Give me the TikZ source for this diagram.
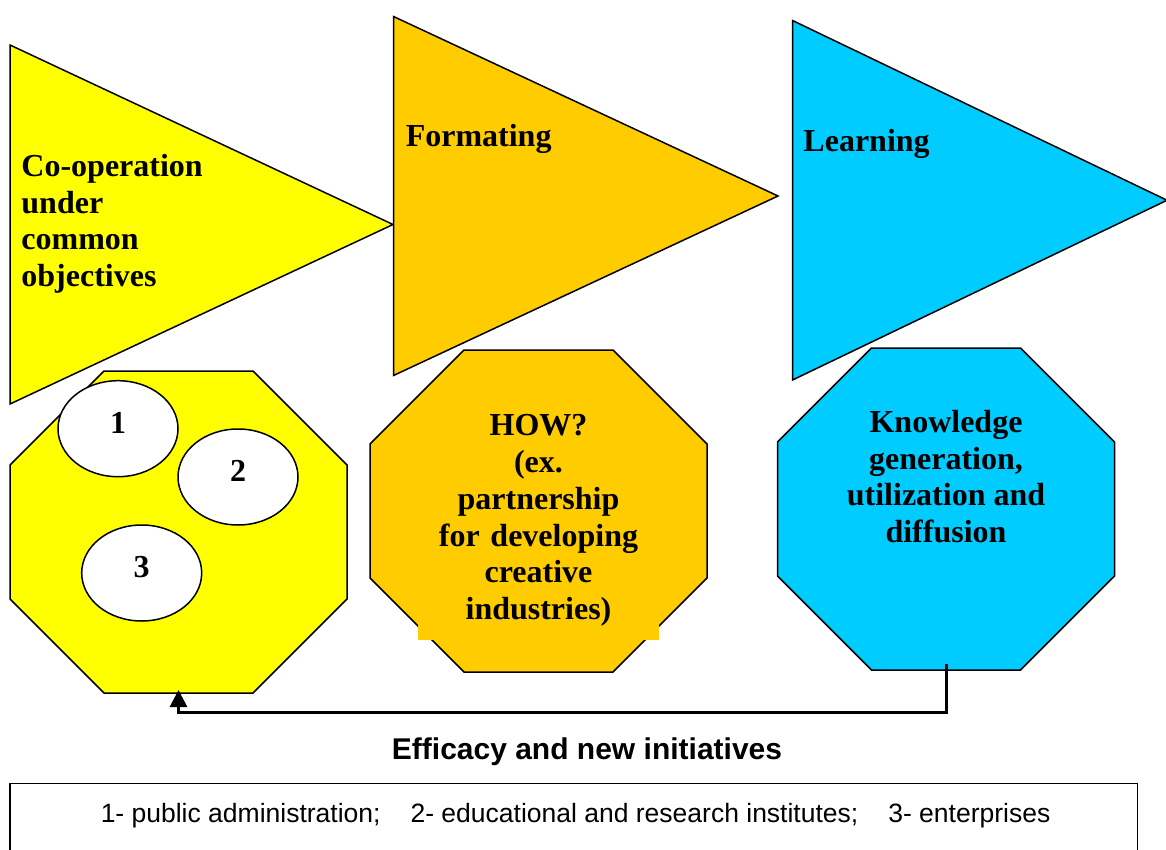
\documentclass[tikz,border=0pt]{standalone}
\usepackage{fontspec}
\setmainfont{Liberation Serif}
\setsansfont{Liberation Sans}
\usetikzlibrary{shapes.geometric,arrows.meta}

\definecolor{Lemon}{HTML}{FFFF00}
\definecolor{Amber}{HTML}{FFCC00}
\definecolor{Sky}{HTML}{00CCFF}

\newcommand{\drawpennant}[5]{% Parameters: color, left, top, bottom, tip
  \draw[draw=black,fill=#1] (#2,#3) -- (#5,{(#3+#4)/2}) -- (#2,#4) -- cycle;
}
\newcommand{\drawoctagon}[4]{% Parameters: color, left, top, name
  \draw[draw=black,fill=#1] (#2,#3) ++(94,0) -- ++(149,0) -- ++(94,94) -- ++(0,134)
  -- ++(-94,94) -- ++(-149,0) -- ++(-94,-94) -- ++(0,-134) -- cycle;
  \path (#2,#3) ++(168.5,322) coordinate (#4);
}

\tikzset{
  bigtext/.style={font=\fontsize{32}{36.7}\selectfont\bfseries, inner sep=0pt},
  member/.style={ellipse, draw=black, fill=white, minimum width=120pt, minimum height=96pt,
    inner sep=0pt, text depth=12pt, font=\fontsize{32}{36}\selectfont\bfseries},
  feedback/.style={line width=3pt, -{Triangle[length=17pt,width=17pt]}},
}

\begin{document}
\begin{tikzpicture}[x=1pt,y=-1pt,line width=1.5pt]
  \useasboundingbox (0,0) rectangle (1166,850);
  \drawpennant{Lemon}{10}{45}{404}{393}
  \drawpennant{Amber}{393.5}{16.5}{375.5}{778}
  \drawpennant{Sky}{792.5}{20.5}{380}{1167}
  \drawoctagon{Lemon}{10}{371}{coop}
  \drawoctagon{Amber}{370}{350}{form}
  \drawoctagon{Sky}{777.5}{348}{learn}
  % stage titles
  \node[bigtext, anchor=north west, align=left] (cooptitle) at (20.7,153.6)
    {Co-operation\\under\\common\\objectives};
  \node[bigtext, anchor=base west] (formtitle) at (405,146.7) {Formating};
  \node[bigtext, anchor=base west] (learntitle) at (802.7,151.7) {Learning};
  % partners
  \node[member] (p1) at (118,428.7) {1};
  \node[member] (p2) at (238,477) {2};
  \node[member] (p3) at (141.7,573) {3};
  % octagon texts
  \node[bigtext, align=center, fill=Amber, text width=221pt, inner xsep=10pt, inner ysep=14pt,
    anchor=south] (howtext) at (538.5,641)
    {HOW?\\(ex.\\partnership\\for developing\\creative\\industries)};
  \node[bigtext, align=center, anchor=north] (learntext) at (946,409.6)
    {Knowledge\\generation,\\utilization and\\diffusion};
  % feedback loop
  \draw[feedback] ([yshift=6pt]learn) -- ++(0,48) -| ([yshift=3pt]coop);
  \node[font=\fontsize{30}{36}\selectfont\sffamily\bfseries, anchor=base, inner sep=0pt] (loop)
    at (587,759) {Efficacy and new initiatives};
  % legend
  \draw (10,870) -- (10,783.3) -- (1137.7,783.3) -- (1137.7,870);
  \node[font=\fontsize{26.5}{32}\selectfont\sffamily, anchor=base west, inner sep=0pt] (legend)
    at (100,822) {1- public administration;\hspace{30pt}2- educational and research institutes;\hspace{30pt}3- enterprises};
\end{tikzpicture}
\end{document}
